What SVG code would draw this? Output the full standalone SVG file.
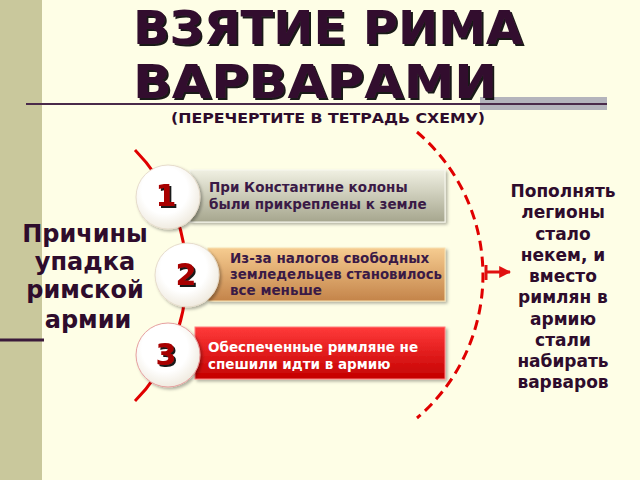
<svg xmlns="http://www.w3.org/2000/svg" width="640" height="480" viewBox="0 0 640 480">
<defs>
<linearGradient id="g1" x1="0" y1="0" x2="0" y2="1"><stop offset="0" stop-color="#f0f0e2"/><stop offset="1" stop-color="#a6a68e"/></linearGradient>
<linearGradient id="g2" x1="0" y1="0" x2="0" y2="1"><stop offset="0" stop-color="#f6cc90"/><stop offset="1" stop-color="#c4844a"/></linearGradient>
<linearGradient id="g3" x1="0" y1="0" x2="0" y2="1"><stop offset="0" stop-color="#ff3a3a"/><stop offset="1" stop-color="#c40000"/></linearGradient>
<radialGradient id="gc" cx="0.45" cy="0.4" r="0.6"><stop offset="0.6" stop-color="#ffffff"/><stop offset="1" stop-color="#f0ebe0"/></radialGradient>
<filter id="sh" x="-10%" y="-10%" width="130%" height="140%"><feDropShadow dx="2" dy="2" stdDeviation="1.5" flood-color="#000" flood-opacity="0.3"/></filter>
<filter id="tsh" x="-5%" y="-10%" width="115%" height="130%"><feDropShadow dx="2" dy="2" stdDeviation="0.3" flood-color="#000" flood-opacity="0.9"/></filter>
<marker id="ah" viewBox="0 0 10 10" refX="9" refY="5" markerWidth="4" markerHeight="4" orient="auto"><path d="M0,0 L10,5 L0,10 Z" fill="#e01010"/></marker>
</defs>
<style>
.t{font-family:"DejaVu Sans","Verdana",sans-serif;font-weight:bold}
.title{font-size:46px;fill:#33102f}
.box{font-size:13.5px;fill:#3a1a46}
.num{font-size:30px;fill:#a80000}
.side{font-size:24px;fill:#2e0c2c}
.right{font-size:17px;fill:#2e0c2c}
</style>
<rect x="0" y="0" width="640" height="480" fill="#fefee6"/>
<rect x="0" y="0" width="42" height="480" fill="#c9c89c"/>
<rect x="480" y="97" width="127" height="13" fill="#b4b4bc"/>
<line x1="26" y1="104" x2="607" y2="104" stroke="#4a2a4a" stroke-width="2"/>
<line x1="0" y1="340" x2="44" y2="340" stroke="#3a1a3a" stroke-width="3"/>

<g id="title">
<text class="t title" x="328" y="44" text-anchor="middle" textLength="390" lengthAdjust="spacingAndGlyphs" filter="url(#tsh)">ВЗЯТИЕ РИМА</text>
<text class="t title" x="315" y="98" text-anchor="middle" textLength="364" lengthAdjust="spacingAndGlyphs" filter="url(#tsh)">ВАРВАРАМИ</text>
<text class="t" x="328" y="123" text-anchor="middle" font-size="14" fill="#2e0c2c" textLength="314" lengthAdjust="spacingAndGlyphs">(ПЕРЕЧЕРТИТЕ В ТЕТРАДЬ СХЕМУ)</text>
</g>

<g id="connectors">
<path d="M135 150 A179 179 0 0 1 135 401" fill="none" stroke="#e00000" stroke-width="3"/>
<path d="M417 132 A188 188 0 0 1 417 418" fill="none" stroke="#e00000" stroke-width="3" stroke-dasharray="10 6"/>
<line x1="486" y1="265" x2="486" y2="280" stroke="#e01010" stroke-width="3"/>
<line x1="486" y1="272" x2="510" y2="272" stroke="#e01010" stroke-width="3" marker-end="url(#ah)"/>
</g>

<g id="box1">
<rect x="190" y="170" width="255" height="52" fill="url(#g1)" stroke="#f8f8f0" stroke-width="1" filter="url(#sh)"/>
<text class="t box" x="209" y="192">При Константине колоны</text>
<text class="t box" x="209" y="209">были прикреплены к земле</text>
</g>
<g id="box2">
<rect x="208" y="248" width="237" height="53" fill="url(#g2)" stroke="#f8e0b0" stroke-width="1" filter="url(#sh)"/>
<text class="t box" x="230" y="263">Из-за налогов свободных</text>
<text class="t box" x="230" y="279" textLength="212" lengthAdjust="spacingAndGlyphs">земледельцев становилось</text>
<text class="t box" x="230" y="295">все меньше</text>
</g>
<g id="box3">
<rect x="195" y="327" width="250" height="52" fill="url(#g3)" stroke="#ff8080" stroke-width="1" filter="url(#sh)"/>
<text class="t box" x="208" y="352" style="fill:#ffffff">Обеспеченные римляне не</text>
<text class="t box" x="208" y="369" style="fill:#ffffff">спешили идти в армию</text>
</g>

<g id="c1">
<circle cx="168" cy="197" r="32" fill="url(#gc)" stroke="#e6dccc" stroke-width="1" filter="url(#sh)"/>
<text class="t num" x="166" y="206" text-anchor="middle" filter="url(#tsh)">1</text>
</g>
<g id="c2">
<circle cx="187" cy="275" r="32" fill="url(#gc)" stroke="#e6dccc" stroke-width="1" filter="url(#sh)"/>
<text class="t num" x="186" y="285" text-anchor="middle" filter="url(#tsh)">2</text>
</g>
<g id="c3">
<circle cx="168" cy="355" r="32" fill="url(#gc)" stroke="#e6a0a0" stroke-width="1" filter="url(#sh)"/>
<text class="t num" x="166" y="365" text-anchor="middle" filter="url(#tsh)">3</text>
</g>

<g id="left-label">
<text class="t side" x="85" y="242" text-anchor="middle">Причины</text>
<text class="t side" x="85" y="270" text-anchor="middle">упадка</text>
<text class="t side" x="85" y="298" text-anchor="middle">римской</text>
<text class="t side" x="88" y="328" text-anchor="middle">армии</text>
</g>

<g id="right-label">
<text class="t right" x="563" y="197" text-anchor="middle">Пополнять</text>
<text class="t right" x="563" y="218" text-anchor="middle">легионы</text>
<text class="t right" x="563" y="240" text-anchor="middle">стало</text>
<text class="t right" x="563" y="261" text-anchor="middle">некем, и</text>
<text class="t right" x="563" y="282" text-anchor="middle">вместо</text>
<text class="t right" x="563" y="303" text-anchor="middle">римлян в</text>
<text class="t right" x="563" y="325" text-anchor="middle">армию</text>
<text class="t right" x="563" y="346" text-anchor="middle">стали</text>
<text class="t right" x="563" y="367" text-anchor="middle">набирать</text>
<text class="t right" x="563" y="388" text-anchor="middle">варваров</text>
</g>
</svg>
